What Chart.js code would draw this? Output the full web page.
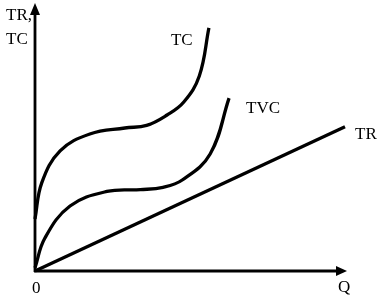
<!DOCTYPE html>
<html>
<head>
<meta charset="utf-8">
<script src="https://cdn.jsdelivr.net/npm/chart.js@4/dist/chart.umd.min.js"></script>
<style>
html,body{margin:0;padding:0;background:#fff;}
canvas{display:block;}
</style>
</head>
<body>
<canvas id="c" width="387" height="302"></canvas>
<script>
// Curve data (Q on x, value on y; both in 0..10 units)
const tcQ   = [0, 0.22, 0.81, 1.77, 2.9, 3.6, 4.26, 4.8, 5.30, 5.61];
const tcV   = [2.0, 3.4, 4.62, 5.27, 5.5, 5.6, 6.0, 6.5, 7.5, 9.35];
const tvcQ  = [0, 0.32, 1.13, 2.32, 3.4, 4.13, 4.75, 5.65, 6.26];
const tvcV  = [0.12, 1.27, 2.5, 3.06, 3.13, 3.22, 3.5, 4.5, 6.65];
const trQ   = [0, 10];
const trV   = [0, 5.55];
const curveLabels = ["TC", "TVC", "TR"];
const axisLabels = {y: ["TR,", "TC"], x: "Q", origin: "0"};

const toPts = (xs, ys) => xs.map((x, i) => ({x: x, y: ys[i]}));

const FONT = '17px "Liberation Serif", "Times New Roman", serif';

const axesPlugin = {
  id: 'axesPlugin',
  beforeDraw(chart) {
    const ctx = chart.ctx;
    ctx.save();
    ctx.fillStyle = '#fff';
    ctx.fillRect(0, 0, chart.width, chart.height);
    ctx.restore();
  },
  afterDraw(chart) {
    const ctx = chart.ctx;
    const xs = chart.scales.x, ys = chart.scales.y;
    const x0 = xs.getPixelForValue(0), y0 = ys.getPixelForValue(0);
    const xEnd = xs.getPixelForValue(10) + 2;
    const yEnd = ys.getPixelForValue(10) - 8;
    ctx.save();
    ctx.strokeStyle = '#000';
    ctx.fillStyle = '#000';
    ctx.lineWidth = 2.8;
    ctx.beginPath();
    ctx.moveTo(x0, y0 + 1);
    ctx.lineTo(x0, yEnd + 8);
    ctx.moveTo(x0 - 1, y0);
    ctx.lineTo(xEnd - 8, y0);
    ctx.stroke();
    // arrowheads
    ctx.beginPath();
    ctx.moveTo(x0, yEnd);
    ctx.lineTo(x0 - 5, yEnd + 12);
    ctx.lineTo(x0 + 5, yEnd + 12);
    ctx.closePath();
    ctx.fill();
    ctx.beginPath();
    ctx.moveTo(xEnd, y0);
    ctx.lineTo(xEnd - 11, y0 - 5);
    ctx.lineTo(xEnd - 11, y0 + 5);
    ctx.closePath();
    ctx.fill();
    // texts
    ctx.font = FONT;
    ctx.textBaseline = 'alphabetic';
    ctx.textAlign = 'left';
    ctx.fillText(axisLabels.y[0], 6, 20);
    ctx.fillText(axisLabels.y[1], 6, 44);
    ctx.fillText(axisLabels.origin, 32, 293);
    ctx.fillText(axisLabels.x, 338, 292);
    // curve labels next to curve ends
    const tcEnd = {x: xs.getPixelForValue(tcQ[tcQ.length-1]), y: ys.getPixelForValue(tcV[tcV.length-1])};
    const tvcEnd = {x: xs.getPixelForValue(tvcQ[tvcQ.length-1]), y: ys.getPixelForValue(tvcV[tvcV.length-1])};
    const trEnd = {x: xs.getPixelForValue(trQ[1]), y: ys.getPixelForValue(trV[1])};
    ctx.fillText(curveLabels[0], tcEnd.x - 38, tcEnd.y + 17);
    ctx.fillText(curveLabels[1], tvcEnd.x + 17, tvcEnd.y + 15);
    ctx.fillText(curveLabels[2], trEnd.x + 10, trEnd.y + 12);
    ctx.restore();
  }
};

const lineStyle = {
  borderColor: '#000',
  borderWidth: 3.3,
  pointRadius: 0,
  fill: false,
  showLine: true,
  tension: 0.4,
  clip: false
};

new Chart(document.getElementById('c'), {
  type: 'scatter',
  data: {
    datasets: [
      Object.assign({label: curveLabels[0], data: toPts(tcQ, tcV)}, lineStyle),
      Object.assign({label: curveLabels[1], data: toPts(tvcQ, tvcV)}, lineStyle),
      Object.assign({label: curveLabels[2], data: toPts(trQ, trV)}, lineStyle, {tension: 0})
    ]
  },
  options: {
    responsive: false,
    animation: false,
    layout: {padding: {left: 35, right: 42, top: 11, bottom: 31}},
    plugins: {legend: {display: false}, tooltip: {enabled: false}},
    scales: {
      x: {type: 'linear', min: 0, max: 10, display: false},
      y: {type: 'linear', min: 0, max: 10, display: false}
    }
  },
  plugins: [axesPlugin]
});
</script>
</body>
</html>
